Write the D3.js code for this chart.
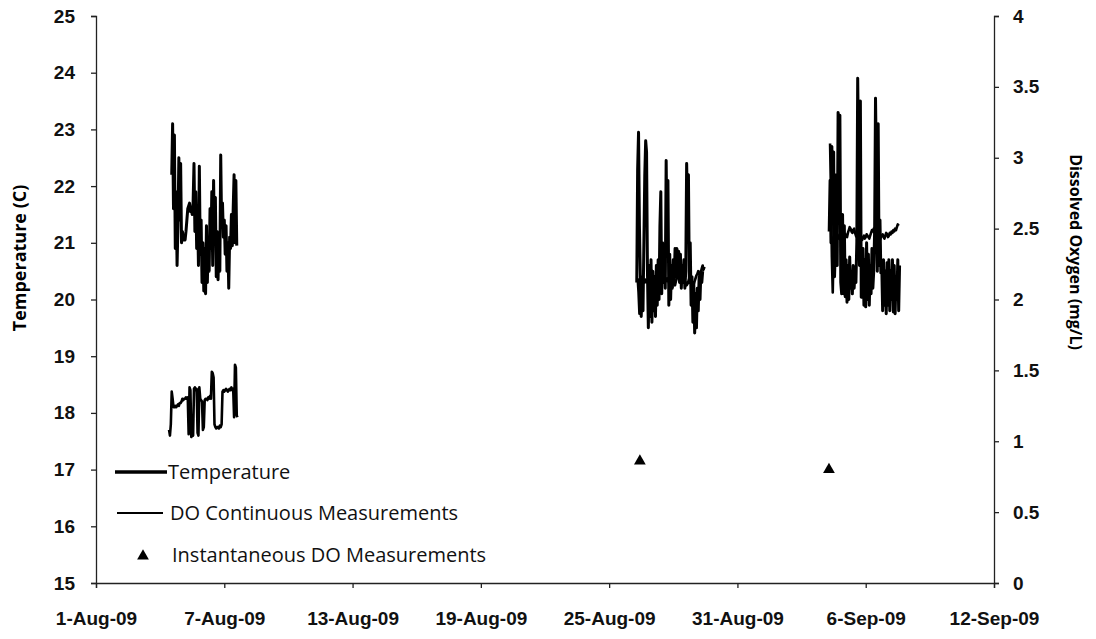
<!DOCTYPE html>
<html>
<head>
<meta charset="utf-8">
<script src="https://cdn.jsdelivr.net/npm/d3@7"></script>
<style>
    body { margin: 0; background: #fff; }
    svg { display: block; font-family: "Open Sans", "DejaVu Sans", sans-serif; }
    .axis path, .axis line { stroke: #222; stroke-width: 1.3px; }
    .axis text { font-size: 19px; font-weight: 700; fill: #111; }
    .legend text { font-size: 20px; fill: #111; }
</style>
</head>
<body>
<div id="chart"></div>
<script>
console.log('do_temperature chart loaded');

// Hourly logger readings, one array per deployment
const tempStarts = ["2009-08-04T13:00", "2009-08-26T07:00", "2009-09-04T07:00"];
const tempDeploy1 = [22.2, 23.1, 21.6, 22.9, 20.9, 21.9, 20.6, 21.3, 22.5, 21.4, 22.4, 21.0, 21.2, 21.05, 21.1, 21.05,
    21.2, 21.4, 21.6, 21.65, 21.7, 21.55, 21.6, 21.5, 21.7, 22.4, 21.2, 21.9, 20.9, 21.6, 20.6, 22.35, 20.8, 21.4,
    20.3, 21.0, 20.15, 20.9, 20.1, 21.3, 20.3, 21.1, 20.5, 21.6, 20.9, 21.9, 20.6, 22.1, 21.0, 21.8, 20.4, 21.2,
    20.35, 21.0, 20.5, 22.55, 21.3, 21.7, 21.1, 21.4, 20.8, 21.3, 20.5, 21.0, 20.2, 21.1, 20.9, 21.5, 20.95, 21.6,
    22.2, 21.0, 22.1, 20.95];
const tempDeploy2 = [20.3, 22.3, 22.95, 21.3, 20.4, 19.7, 20.2, 19.8, 21.0, 22.2, 22.8, 22.6, 20.5, 19.5, 20.6, 19.7,
    20.7, 19.6, 20.5, 19.8, 20.4, 19.7, 20.6, 19.9, 20.7, 20.0, 21.3, 21.9, 20.1, 21.0, 20.3, 20.9, 20.2, 22.45,
    21.0, 22.1, 19.9, 20.8, 20.0, 20.6, 20.2, 20.7, 20.3, 20.9, 20.4, 20.9, 20.4, 20.85, 20.3, 20.8, 20.2, 20.6,
    20.3, 20.7, 20.2, 20.5, 22.4, 21.5, 22.2, 20.3, 21.0, 19.9, 20.4, 19.6, 20.3, 19.41, 20.1, 19.5, 20.2, 19.8,
    20.4, 20.0, 20.5, 20.3, 20.5];
const tempDeploy3 = [21.2, 22.1, 21.0, 22.7, 21.5, 22.6, 20.4, 21.0, 22.2, 20.6, 23.3, 22.0, 23.25, 20.3, 20.1, 21.5,
    20.1, 21.3, 20.05, 20.7, 19.95, 20.6, 20.0, 20.75, 20.2, 20.5, 20.1, 20.6, 20.2, 20.5, 20.3, 21.0, 23.9, 22.5,
    20.6, 23.5, 20.04, 20.8, 20.9, 19.9, 20.7, 19.87, 21.0, 20.0, 20.8, 19.9, 20.6, 20.1, 20.9, 20.2, 20.5, 21.2,
    23.55, 22.3, 20.5, 23.1, 20.6, 21.4, 20.47, 20.6, 19.8, 20.7, 19.9, 20.5, 19.75, 20.65, 19.9, 20.7, 19.8, 20.5,
    20.0, 20.7, 19.78, 20.6, 19.75, 20.4, 20.0, 20.7, 19.8, 20.6];

const doStarts = ["2009-08-04T10:00", "2009-08-26T08:00", "2009-09-04T08:00"];
const doDeploy1 = [1.08, 1.04, 1.12, 1.35, 1.30, 1.24, 1.24, 1.25, 1.24, 1.25, 1.26, 1.25, 1.27, 1.27, 1.28, 1.30,
    1.29, 1.30, 1.30, 1.31, 1.30, 1.31, 1.05, 1.38, 1.36, 1.03, 1.05, 1.04, 1.37, 1.38, 1.36, 1.37, 1.06, 1.04,
    1.38, 1.30, 1.29, 1.28, 1.08, 1.10, 1.29, 1.30, 1.30, 1.29, 1.31, 1.30, 1.32, 1.30, 1.49, 1.48, 1.45, 1.12,
    1.10, 1.09, 1.10, 1.10, 1.09, 1.11, 1.10, 1.12, 1.35, 1.36, 1.35, 1.36, 1.37, 1.36, 1.35, 1.36, 1.37, 1.36,
    1.38, 1.36, 1.37, 1.17, 1.54, 1.52, 1.18, 1.17];
const doDeploy2 = [2.15, 2.05, 1.90, 2.12, 2.16, 2.14, 2.15, 2.13, 2.12, 2.14, 2.13, 2.12, 2.11, 2.13, 2.12, 2.14,
    2.13, 2.12, 2.14, 2.15, 2.13, 2.12, 2.14, 2.16, 2.15, 2.14, 2.13, 2.15, 2.14, 2.13, 2.12, 2.14, 2.13, 2.15,
    2.14, 2.12, 2.13, 2.15, 2.17, 2.16, 2.14, 2.12, 2.10, 2.13, 2.15, 2.18, 2.20, 2.17, 2.15, 2.13, 2.12, 2.14,
    2.16, 2.13, 2.12, 2.10, 2.11, 2.13, 2.15, 2.14, 2.12, 2.10, 2.08, 2.11, 2.13, 2.15, 2.17, 2.18, 2.20, 2.18,
    2.16, 2.19, 2.22, 2.24, 2.21, 2.23];
const doDeploy3 = [3.10, 2.75, 2.30, 2.05, 2.40, 2.47, 2.45, 2.44, 2.46, 2.45, 2.43, 2.44, 2.42, 2.44, 2.45, 2.43,
    2.44, 2.46, 2.45, 2.44, 2.47, 2.49, 2.51, 2.50, 2.48, 2.47, 2.49, 2.50, 2.47, 2.45, 2.44, 2.43, 2.44, 2.45,
    2.44, 2.43, 2.42, 2.44, 2.45, 2.43, 2.44, 2.46, 2.45, 2.44, 2.43, 2.45, 2.47, 2.49, 2.48, 2.50, 2.47, 2.45,
    2.44, 2.46, 2.45, 2.43, 2.42, 2.44, 2.45, 2.46, 2.44, 2.43, 2.45, 2.47, 2.46, 2.44, 2.45, 2.47, 2.46, 2.48,
    2.47, 2.49, 2.48, 2.50, 2.49, 2.51, 2.53, 2.52];

// Instantaneous (spot) DO readings
const spotDates = ["2009-08-26T10:30", "2009-09-04T06:45"];
const spotDO = [0.86, 0.80];

// Axis ticks
const xTickDates = ["2009-08-01", "2009-08-07", "2009-08-13", "2009-08-19", "2009-08-25", "2009-08-31", "2009-09-06", "2009-09-12"];
const xTickLabels = ["1-Aug-09", "7-Aug-09", "13-Aug-09", "19-Aug-09", "25-Aug-09", "31-Aug-09", "6-Sep-09", "12-Sep-09"];
const tempTicks = [15, 16, 17, 18, 19, 20, 21, 22, 23, 24, 25];
const doTicks = [0, 0.5, 1, 1.5, 2, 2.5, 3, 3.5, 4];

const legendLabels = ["Temperature", "DO Continuous Measurements", "Instantaneous DO Measurements"];

const parseTime = d3.timeParse("%Y-%m-%dT%H:%M");
const parseDay = d3.timeParse("%Y-%m-%d");

function toSeries(start, values) {
    const t0 = parseTime(start);
    return values.map((v, i) => ({ date: d3.timeHour.offset(t0, i), value: v }));
}

const tempSeries = [tempDeploy1, tempDeploy2, tempDeploy3].map((vals, i) => toSeries(tempStarts[i], vals));
const doSeries = [doDeploy1, doDeploy2, doDeploy3].map((vals, i) => toSeries(doStarts[i], vals));
const spots = spotDates.map((d, i) => ({ date: parseTime(d), value: spotDO[i] }));

// Dimensions
const margin = { top: 16, right: 102, bottom: 56, left: 96 };
const width = 1096 - margin.left - margin.right;
const height = 639 - margin.top - margin.bottom;

const svg = d3.select("#chart")
    .append("svg")
    .attr("width", 1096)
    .attr("height", 639);

const g = svg.append("g")
    .attr("transform", `translate(${margin.left},${margin.top})`);

const x = d3.scaleTime()
    .domain([parseDay(xTickDates[0]), parseDay(xTickDates[xTickDates.length - 1])])
    .range([0, width]);
const yTemp = d3.scaleLinear().domain([15, 25]).range([height, 0]);
const yDO = d3.scaleLinear().domain([0, 4]).range([height, 0]);

// Axes
const xTickValues = xTickDates.map(parseDay);
g.append("g")
    .attr("class", "axis")
    .attr("transform", `translate(0,${height})`)
    .call(d3.axisBottom(x)
        .tickValues(xTickValues)
        .tickSize(5)
        .tickPadding(24)
        .tickFormat((d, i) => xTickLabels[i]));

g.append("g")
    .attr("class", "axis")
    .call(d3.axisLeft(yTemp).tickValues(tempTicks).tickSize(5).tickPadding(16).tickFormat(d3.format("d")));

g.append("g")
    .attr("class", "axis")
    .attr("transform", `translate(${width},0)`)
    .call(d3.axisRight(yDO).tickValues(doTicks).tickSize(5).tickPadding(14).tickFormat(d3.format("")));

g.selectAll(".axis .domain").attr("stroke", "#222");

// Axis titles
svg.append("text")
    .attr("transform", "translate(26,258) rotate(-90)")
    .attr("text-anchor", "middle")
    .style("font-size", "18px")
    .style("font-weight", "700")
    .text("Temperature (C)");

svg.append("text")
    .attr("transform", "translate(1070,252) rotate(90)")
    .attr("text-anchor", "middle")
    .style("font-size", "16px")
    .style("font-weight", "700")
    .text("Dissolved Oxygen (mg/L)");

// Lines
const tempLine = d3.line().x(d => x(d.date)).y(d => yTemp(d.value));
const doLine = d3.line().x(d => x(d.date)).y(d => yDO(d.value));

g.selectAll(".do-line")
    .data(doSeries)
    .enter().append("path")
    .attr("class", "do-line")
    .attr("d", doLine)
    .attr("fill", "none")
    .attr("stroke", "#000")
    .attr("stroke-width", 2.6)
    .attr("stroke-linejoin", "round");

g.selectAll(".temp-line")
    .data(tempSeries)
    .enter().append("path")
    .attr("class", "temp-line")
    .attr("d", tempLine)
    .attr("fill", "none")
    .attr("stroke", "#000")
    .attr("stroke-width", 3)
    .attr("stroke-linejoin", "round");

// Spot measurements as triangles
const tri = d3.symbol().type(d3.symbolTriangle).size(60);
g.selectAll(".spot")
    .data(spots)
    .enter().append("path")
    .attr("class", "spot")
    .attr("d", tri)
    .attr("transform", d => `translate(${x(d.date)},${yDO(d.value)})`)
    .attr("fill", "#000");

// Legend
const legend = svg.append("g").attr("class", "legend");
const legendY = [472, 513, 555];

legend.append("line")
    .attr("x1", 115).attr("x2", 167)
    .attr("y1", legendY[0]).attr("y2", legendY[0])
    .attr("stroke", "#000").attr("stroke-width", 3.5);
legend.append("line")
    .attr("x1", 117).attr("x2", 163)
    .attr("y1", legendY[1]).attr("y2", legendY[1])
    .attr("stroke", "#000").attr("stroke-width", 2);
legend.append("path")
    .attr("d", tri)
    .attr("transform", `translate(143,${legendY[2] + 1})`)
    .attr("fill", "#000");

legendLabels.forEach((label, i) => {
    legend.append("text")
        .attr("x", [168, 170, 172][i])
        .attr("y", legendY[i])
        .attr("dy", "0.35em")
        .text(label);
});
</script>
</body>
</html>
